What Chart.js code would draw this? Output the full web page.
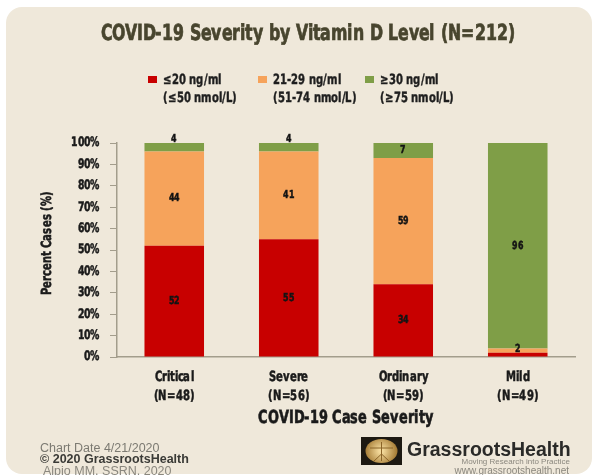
<!DOCTYPE html>
<html>
<head>
<meta charset="utf-8">
<script src="https://cdn.jsdelivr.net/npm/chart.js@4.4.1/dist/chart.umd.min.js"></script>
<style>
  @font-face {
    font-family: 'CondB';
    src: local('Liberation Sans Narrow Bold'), local('LiberationSansNarrow-Bold'),
         local('DejaVu Sans Condensed Bold'), local('DejaVuSansCondensed-Bold'),
         local('Noto Sans Condensed Bold'), local('NotoSans-CondensedBold');
    font-weight: 700;
  }
  html, body { margin: 0; padding: 0; background: #fff; }
  #wrap { width: 598px; height: 475px; }
</style>
</head>
<body>
<div id="wrap"><canvas id="barChart" width="598" height="475"></canvas></div>
<script>
const categories = [['Critical', '(N=48)'], ['Severe', '(N=56)'], ['Ordinary', '(N=59)'], ['Mild', '(N=49)']];
const lowD = [52, 55, 34, 2];
const midD = [44, 41, 59, 2];
const highD = [4, 4, 7, 96];
const seriesNames = ['\u226420 ng/ml', '21-29 ng/ml', '\u226530 ng/ml'];
const seriesSub = ['(\u226450 nmol/L)', '(51-74 nmol/L)', '(\u226575 nmol/L)'];
const colors = ['#c80000', '#f6a35b', '#7f9e47'];
const titleText = 'COVID-19 Severity by Vitamin D Level (N=212)';

const SANS = "'Liberation Sans', Arial, sans-serif";
const NARROW = "CondB, 'Liberation Sans', sans-serif";
let sq = 1; // horizontal squeeze so the bold face looks as narrow as the original

function narrowText(ctx, text, x, y, align, heavy) {
  ctx.save();
  ctx.translate(x, y);
  ctx.scale(sq, 1);
  ctx.textAlign = align;
  ctx.fillText(text, 0, 0);
  if (heavy) {
    ctx.strokeStyle = ctx.fillStyle;
    ctx.lineWidth = heavy;
    ctx.strokeText(text, 0, 0);
  }
  ctx.restore();
}

// card background, title, legend and footer
const decor = {
  id: 'decor',
  beforeDraw(chart) {
    const ctx = chart.ctx;
    ctx.save();
    ctx.fillStyle = '#ffffff';
    ctx.fillRect(0, 0, chart.width, chart.height);
    ctx.fillStyle = '#efe8da';
    ctx.beginPath();
    ctx.roundRect(6, 7, 586, 467, 16);
    ctx.fill();
    ctx.restore();
  },
  afterDraw(chart) {
    const ctx = chart.ctx;
    ctx.save();
    ctx.textBaseline = 'middle';
    // title
    ctx.fillStyle = '#48452e';
    ctx.font = 'bold 22px ' + NARROW;
    narrowText(ctx, titleText, 308, 34, 'center', 0.7);

    // legend
    const lx = [148, 258, 365];
    ctx.font = 'bold 13.5px ' + NARROW;
    seriesNames.forEach((name, i) => {
      ctx.fillStyle = colors[i];
      ctx.fillRect(lx[i], 76, 9, 7);
      ctx.fillStyle = '#1e1e1e';
      narrowText(ctx, name, lx[i] + 15, 80, 'left', 0.4);
      narrowText(ctx, seriesSub[i], lx[i] + 15, 98, 'left', 0.4);
    });

    // axis labels and titles, placed from the library's scales
    const xs = chart.scales.x, ys = chart.scales.y, area = chart.chartArea;
    ctx.fillStyle = '#1a1a1a';
    ctx.font = 'bold 13px ' + NARROW;
    ys.ticks.forEach((t) => {
      narrowText(ctx, t.value + '%', area.left - 17, ys.getPixelForValue(t.value), 'right', 0.5);
    });
    ctx.font = 'bold 14px ' + NARROW;
    chart.data.labels.forEach((lab, i) => {
      const px = xs.getPixelForTick(i);
      narrowText(ctx, lab[0], px, area.bottom + 20, 'center', 0.5);
      narrowText(ctx, lab[1], px, area.bottom + 39, 'center', 0.5);
    });
    ctx.font = 'bold 18px ' + NARROW;
    narrowText(ctx, 'COVID-19 Case Severity', (area.left + area.right) / 2, area.bottom + 61, 'center', 0.6);
    ctx.save();
    ctx.translate(47, (area.top + area.bottom) / 2 - 7);
    ctx.rotate(-Math.PI / 2);
    ctx.font = 'bold 13.5px ' + NARROW;
    narrowText(ctx, 'Percent Cases (%)', 0, 0, 'center', 0.5);
    ctx.restore();

    // footer left
    ctx.textAlign = 'left';
    ctx.font = '12.5px ' + SANS;
    ctx.fillStyle = '#7c7a72';
    ctx.fillText('Chart Date 4/21/2020', 40, 449);
    ctx.font = 'bold 12.5px ' + SANS;
    ctx.fillStyle = '#3a3a36';
    ctx.fillText('\u00a9 2020 GrassrootsHealth', 40, 460);
    ctx.font = '12.5px ' + SANS;
    ctx.fillStyle = '#8a877e';
    ctx.fillText('Alpio MM, SSRN, 2020', 43, 471.5);

    // logo
    ctx.fillStyle = '#1d1912';
    ctx.fillRect(361, 437, 41, 28);
    const g = ctx.createRadialGradient(381, 451, 2, 381, 451, 16);
    g.addColorStop(0, '#f3d99a');
    g.addColorStop(1, '#a57b34');
    ctx.fillStyle = g;
    ctx.beginPath();
    ctx.ellipse(381.5, 451, 16, 12, 0, 0, Math.PI * 2);
    ctx.fill();
    ctx.strokeStyle = '#8a6428';
    ctx.lineWidth = 1;
    ctx.beginPath();
    ctx.moveTo(381.5, 442); ctx.lineTo(381.5, 461);
    ctx.moveTo(370, 448); ctx.lineTo(393, 448);
    ctx.moveTo(381.5, 454); ctx.lineTo(374, 461);
    ctx.moveTo(381.5, 454); ctx.lineTo(389, 461);
    ctx.stroke();

    // footer right
    ctx.fillStyle = '#2a2a28';
    ctx.font = 'bold 19.5px ' + SANS;
    ctx.fillText('GrassrootsHealth', 407, 451);
    ctx.textAlign = 'right';
    ctx.font = '8px ' + SANS;
    ctx.fillStyle = '#8a877e';
    ctx.fillText('Moving Research into Practice', 570, 462);
    ctx.font = '10px ' + SANS;
    ctx.fillText('www.grassrootshealth.net', 569, 471);
    ctx.restore();
  }
};

// value labels inside the bar segments
const segLabels = {
  id: 'segLabels',
  afterDatasetsDraw(chart) {
    const ctx = chart.ctx;
    ctx.save();
    ctx.font = 'bold 11px ' + NARROW;
    ctx.fillStyle = '#141414';
    ctx.textBaseline = 'middle';
    const used = {};
    chart.data.datasets.forEach((ds, di) => {
      chart.getDatasetMeta(di).data.forEach((bar, i) => {
        const h = Math.abs(bar.base - bar.y);
        let y = (bar.y + bar.base) / 2;
        if (h < 12) y = bar.y - 4;
        const prev = used[i];
        if (prev !== undefined && Math.abs(prev - y) < 10) return;
        used[i] = y;
        narrowText(ctx, String(ds.data[i]), bar.x, y, 'center', 0.5);
      });
    });
    ctx.restore();
  }
};

function createChart() {
  const m = document.createElement('canvas').getContext('2d');
  m.font = 'bold 22px ' + NARROW;
  sq = Math.min(1, 415 / m.measureText(titleText).width);

  const ctx = document.getElementById('barChart');
  new Chart(ctx, {
    type: 'bar',
    data: {
      labels: categories,
      datasets: [
        { label: seriesNames[0], data: lowD, backgroundColor: colors[0] },
        { label: seriesNames[1], data: midD, backgroundColor: colors[1] },
        { label: seriesNames[2], data: highD, backgroundColor: colors[2] }
      ]
    },
    options: {
      responsive: false,
      animation: false,
      layout: { padding: { left: 34, right: 23, top: 143, bottom: 43 } },
      datasets: { bar: { barPercentage: 0.52, categoryPercentage: 1 } },
      plugins: {
        legend: { display: false },
        tooltip: { enabled: false }
      },
      scales: {
        x: {
          stacked: true,
          grid: { display: false, drawTicks: false },
          border: { display: true, color: '#a39d8c', width: 1.5 },
          ticks: { color: 'rgba(0,0,0,0)' },
          afterFit(scale) { scale.height = 75; }
        },
        y: {
          stacked: true,
          min: 0,
          max: 100,
          grid: {
            drawOnChartArea: false,
            drawTicks: true,
            tickLength: 7,
            tickColor: '#a39d8c'
          },
          border: { display: true, color: '#a39d8c', width: 1.5 },
          ticks: { stepSize: 10, color: 'rgba(0,0,0,0)' },
          afterFit(scale) { scale.width = 83; }
        }
      }
    },
    plugins: [decor, segLabels]
  });
}

document.fonts.load('bold 20px CondB').catch(() => {}).finally(createChart);
</script>
</body>
</html>
